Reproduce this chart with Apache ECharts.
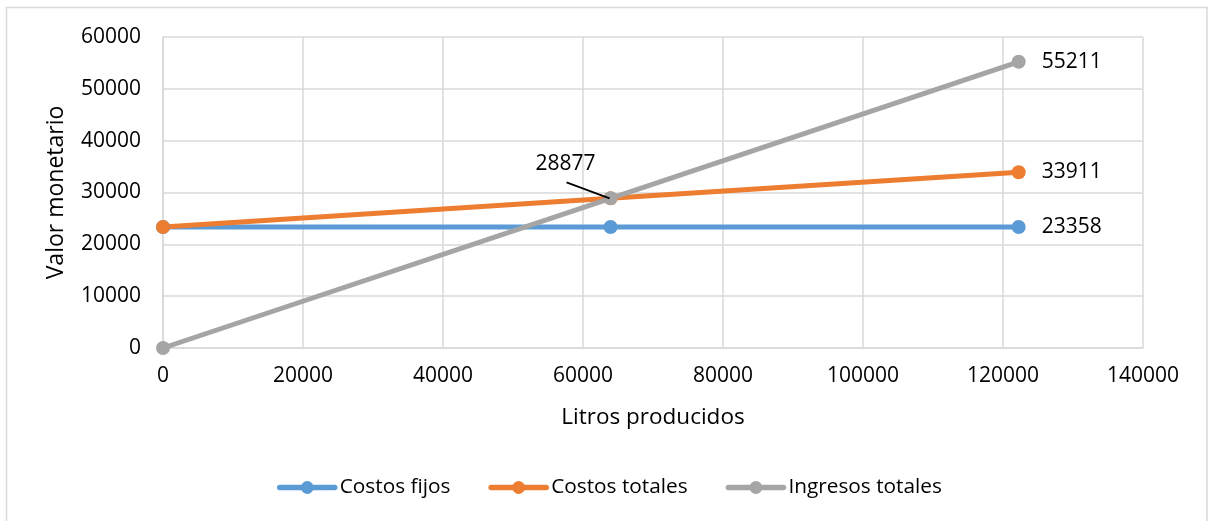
<!DOCTYPE html>
<html>
<head>
<meta charset="utf-8">
<script src="https://cdn.jsdelivr.net/npm/echarts@6/dist/echarts.min.js"></script>
<style>
  html, body { margin: 0; padding: 0; background: #fff; }
  #chart { width: 1209px; height: 521px; }
</style>
</head>
<body>
<div id="chart"></div>
<script>
// litros producidos
const litros = [0, 63937, 122240];
const costosFijos = [23358, 23358, 23358];
const costosTotales = [23358, 28877, 33911];
const ingresosTotales = [0, 28877, 55211];
const seriesNames = ['Costos fijos', 'Costos totales', 'Ingresos totales'];

const FONT = 'Open Sans';
const TEXT = '#000';
const GRID = '#d9d9d9';

// break-even label offset (label centre relative to the point)
const BE_DX = -45, BE_DY = -34;

function pairs(ys) {
  return litros.map((x, i) => [x, ys[i]]);
}

// only the last point carries a label
function lastLabel(data) {
  return data.map((d, i) => i === data.length - 1
    ? { value: d, label: { show: true, position: 'right', distance: 16 } }
    : d);
}

const chart = echarts.init(document.getElementById('chart'));

const lineBase = {
  type: 'line',
  symbol: 'circle',
  symbolSize: 14,
  lineStyle: { width: 5 },
  label: { color: TEXT, fontFamily: FONT, fontSize: 21 },
  animation: false
};

chart.setOption({
  textStyle: { fontFamily: FONT },
  grid: { left: 163, right: 66, top: 37, bottom: 173 },
  xAxis: {
    type: 'value',
    min: 0, max: 140000, interval: 20000,
    name: 'Litros producidos',
    nameLocation: 'middle',
    nameGap: 58,
    nameTextStyle: { color: TEXT, fontFamily: FONT, fontSize: 22.5 },
    axisLine: { show: true, lineStyle: { color: GRID, width: 1.5 } },
    axisTick: { show: false },
    axisLabel: { color: TEXT, fontFamily: FONT, fontSize: 21, margin: 18, formatter: v => String(v) },
    splitLine: { show: true, lineStyle: { color: GRID, width: 1.5 } }
  },
  yAxis: {
    type: 'value',
    min: 0, max: 60000, interval: 10000,
    name: 'Valor monetario',
    nameLocation: 'middle',
    nameGap: 95,
    nameTextStyle: { color: TEXT, fontFamily: FONT, fontSize: 23 },
    axisLine: { show: true, lineStyle: { color: GRID, width: 1.5 } },
    axisTick: { show: false },
    axisLabel: { color: TEXT, fontFamily: FONT, fontSize: 21, margin: 22, formatter: v => String(v) },
    splitLine: { show: true, lineStyle: { color: GRID, width: 1.5 } }
  },
  legend: {
    bottom: 18,
    left: 272,
    itemWidth: 55,
    itemHeight: 16,
    itemGap: 38,
    lineStyle: { width: 5.5, cap: 'round' },
    textStyle: { color: TEXT, fontFamily: FONT, fontSize: 20.8, padding: [0, 0, 0, 0] },
    data: seriesNames
  },
  series: [
    Object.assign({}, lineBase, {
      name: seriesNames[0],
      color: '#5B9BD5',
      data: lastLabel(pairs(costosFijos))
    }),
    Object.assign({}, lineBase, {
      name: seriesNames[1],
      color: '#ED7D31',
      data: lastLabel(pairs(costosTotales))
    }),
    Object.assign({}, lineBase, {
      name: seriesNames[2],
      color: '#A5A5A5',
      data: pairs(ingresosTotales).map((d, i) => {
        if (i === 1) {
          return { value: d, label: { show: true, position: 'inside', color: TEXT } };
        }
        if (i === 2) {
          return { value: d, label: { show: true, position: 'right', distance: 16 } };
        }
        return d;
      }),
      labelLayout: function (params) {
        if (params.dataIndex === 1) {
          return { dx: BE_DX, dy: BE_DY };
        }
        return {};
      }
    })
  ]
});

// outer frame and the leader line of the break-even label
const be = chart.convertToPixel({ seriesIndex: 2 }, [litros[1], ingresosTotales[1]]);
chart.setOption({
  graphic: [{
    type: 'rect',
    shape: { x: 6.5, y: 7.5, width: 1200.5, height: 530 },
    style: { fill: 'none', stroke: GRID, lineWidth: 1.5 },
    silent: true
  }, {
    type: 'line',
    shape: { x1: be[0] + BE_DX + 1, y1: be[1] + BE_DY + 18, x2: be[0] - 1, y2: be[1] },
    style: { stroke: '#000', lineWidth: 1.8 },
    z: 10,
    silent: true
  }]
});
</script>
</body>
</html>
